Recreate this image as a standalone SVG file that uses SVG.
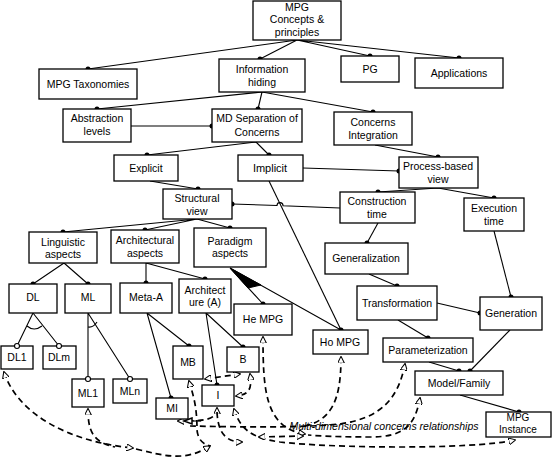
<svg xmlns="http://www.w3.org/2000/svg" width="552" height="460" viewBox="0 0 552 460">
<defs>
<style>
.b{fill:#fff;stroke:#000;stroke-width:1.3}
.t{font-family:"Liberation Sans",Arial,sans-serif;font-size:10.5px;text-anchor:middle;fill:#000}
.l{stroke:#000;stroke-width:1.1;fill:none}
.d{stroke:#000;stroke-width:1.7;stroke-dasharray:6 4;fill:none}
.dot{fill:#000}
.oc{fill:#fff;stroke:#000;stroke-width:1.1}
</style>
<marker id="ah" viewBox="0 0 10 10" refX="9" refY="5" markerWidth="7" markerHeight="7" markerUnits="userSpaceOnUse" orient="auto-start-reverse">
<path d="M0,0 L10,5 L0,10 z" fill="#fff" stroke="#000" stroke-width="1.5"/>
</marker>
</defs>
<rect width="552" height="460" fill="#fff"/>
<g id="connectors">
<path class="l" d="M297,40 L88,69 M297,40 L260,59 M297,40 L370,56 M297,40 L459,58"/>
<path class="l" d="M262,92 L97,109 M262,92 L258,109 M262,92 L373,112"/>
<path class="l" d="M131,126 L212,126"/>
<path class="l" d="M256,142 L147,155 M256,142 L269,155"/>
<path class="l" d="M375,145 L438,157"/>
<path class="l" d="M303,168 L399,171"/>
<path class="l" d="M150,181 L198,189"/>
<path class="l" d="M232,204 L277,205.5 A3,3 0 0 1 283,205.7 L340,208"/>
<path class="l" d="M269,181 L341,330"/>
<path class="l" d="M438,188 L378,192 M438,188 L494,198"/>
<path class="l" d="M378,223 L367,243"/>
<path class="l" d="M369,274 L397,286"/>
<path class="l" d="M494,231 L511,297"/>
<path class="l" d="M437,303 L480,313"/>
<path class="l" d="M398,320 L428,338"/>
<path class="l" d="M429,362 L459,371"/>
<path class="l" d="M510,330 L470,371"/>
<path class="l" d="M460,395 L519,412"/>
<path class="l" d="M197,219 L63,232 M197,219 L145,230 M197,219 L230,228"/>
<path class="l" d="M64,263 L33,284 M64,263 L88,284"/>
<path class="l" d="M146,263 L146,283 M146,263 L205,279"/>
<path class="l" d="M230,268 L263,304 M230,268 L341,330"/>
<path d="M230,268 L248,288 L261,285 z" fill="#000" stroke="#000" stroke-width="1"/>
<path class="l" d="M33,313 L17,346 M33,313 L59,346"/>
<path class="l" d="M27,326 Q34,332 42,326"/>
<path class="l" d="M88,313 L88,379 M88,313 L130,379"/>
<path class="l" d="M88,327 Q93,328 97,322"/>
<path class="l" d="M147,313 L189,346 M147,313 L171,398"/>
<path class="l" d="M206,313 L243,347 M206,313 L217,385"/>
<g id="dashed">
<path class="d" marker-start="url(#ah)" marker-end="url(#ah)" d="M4,372 C18,415 70,442 133,448"/>
<path class="d" marker-end="url(#ah)" d="M136,449 C165,456 185,462 210,446"/>
<path class="d" marker-start="url(#ah)" d="M88,409 C88,430 92,442 115,447"/>
<path class="d" marker-start="url(#ah)" d="M189,381 C193,395 197,405 197,430 C198,440 203,444 210,446"/>
<path class="l" d="M193,421 L201,421"/>
<path class="d" marker-start="url(#ah)" marker-end="url(#ah)" d="M205,379 L240,374"/>
<path class="d" marker-start="url(#ah)" marker-end="url(#ah)" d="M250,374 C253,392 246,395 236,396"/>
<path class="d" marker-start="url(#ah)" marker-end="url(#ah)" d="M217,408 C217,420 205,421 178,421"/>
<path d="M192,418 L184,421 L192,424 z" fill="#fff" stroke="#000" stroke-width="1.5"/>
<path class="d" marker-end="url(#ah)" d="M217,412 C218,432 225,442 242,442"/>
<path class="d" marker-start="url(#ah)" marker-end="url(#ah)" d="M234,409 C240,428 250,438 280,442 C330,448 470,450 515,440"/>
<path class="d" marker-start="url(#ah)" marker-end="url(#ah)" d="M263,337 C263,390 265,428 305,434"/>
<path class="d" marker-start="url(#ah)" d="M341,357 C341,400 332,422 300,427"/>
<path class="d" marker-start="url(#ah)" d="M405,364 C398,400 380,418 340,424 C300,428 240,427 190,426"/>
<path class="d" marker-start="url(#ah)" d="M420,398 C415,425 405,437 370,437 C340,437 320,436 308,435"/>
<path class="d" marker-start="url(#ah)" marker-end="url(#ah)" d="M259,437 L303,436"/>
</g>
<g class="dot">
<circle cx="88" cy="69" r="2.5"/><circle cx="260" cy="59" r="2.5"/><circle cx="370" cy="56" r="2.5"/><circle cx="459" cy="58" r="2.5"/>
<circle cx="97" cy="109" r="2.5"/><circle cx="258" cy="109" r="2.5"/><circle cx="373" cy="112" r="2.5"/><circle cx="212" cy="126" r="2.5"/>
<circle cx="147" cy="155" r="2.5"/><circle cx="269" cy="155" r="2.5"/><circle cx="438" cy="157" r="2.5"/><circle cx="399" cy="171" r="2.5"/>
<circle cx="198" cy="189" r="2.5"/><circle cx="232" cy="204" r="2.5"/><circle cx="378" cy="192" r="2.5"/><circle cx="494" cy="198" r="2.5"/>
<circle cx="63" cy="232" r="2.5"/><circle cx="145" cy="230" r="2.5"/><circle cx="230" cy="228" r="2.5"/><circle cx="367" cy="243" r="2.5"/>
<circle cx="33" cy="284" r="2.5"/><circle cx="88" cy="284" r="2.5"/><circle cx="146" cy="283" r="2.5"/><circle cx="205" cy="279" r="2.5"/>
<circle cx="263" cy="304" r="2.5"/><circle cx="341" cy="330" r="2.5"/><circle cx="397" cy="286" r="2.5"/><circle cx="511" cy="297" r="2.5"/><circle cx="480" cy="313" r="2.5"/>
<circle cx="428" cy="338" r="2.5"/><circle cx="459" cy="371" r="2.5"/><circle cx="470" cy="371" r="2.5"/><circle cx="519" cy="412" r="2.5"/>
<circle cx="189" cy="346" r="2.5"/><circle cx="243" cy="347" r="2.5"/><circle cx="217" cy="385" r="2.5"/><circle cx="171" cy="398" r="2.5"/>
</g>
</g>
<g id="n1"><rect class="b" x="253" y="1" width="88" height="39"/><text class="t" x="297" y="11">MPG</text><text class="t" x="297" y="23">Concepts &amp;</text><text class="t" x="297" y="36">principles</text></g>
<g id="n2"><rect class="b" x="39" y="69" width="98" height="30"/><text class="t" x="88" y="88">MPG Taxonomies</text></g>
<g id="n3"><rect class="b" x="219" y="59" width="86" height="33"/><text class="t" x="262" y="73">Information</text><text class="t" x="262" y="86">hiding</text></g>
<g id="n4"><rect class="b" x="341" y="56" width="58" height="26"/><text class="t" x="370" y="73">PG</text></g>
<g id="n5"><rect class="b" x="415" y="58" width="88" height="30"/><text class="t" x="459" y="77">Applications</text></g>
<g id="n6"><rect class="b" x="63" y="109" width="68" height="33"/><text class="t" x="97" y="122">Abstraction</text><text class="t" x="97" y="135">levels</text></g>
<g id="n7"><rect class="b" x="212" y="109" width="90" height="33"/><text class="t" x="257" y="122">MD Separation of</text><text class="t" x="257" y="136">Concerns</text></g>
<g id="n8"><rect class="b" x="334" y="112" width="78" height="33"/><text class="t" x="373" y="126">Concerns</text><text class="t" x="373" y="139">Integration</text></g>
<g id="n9"><rect class="b" x="114" y="155" width="64" height="26"/><text class="t" x="146" y="172">Explicit</text></g>
<g id="n10"><rect class="b" x="238" y="155" width="65" height="26"/><text class="t" x="270" y="172" style="font-size:11px">Implicit</text></g>
<g id="n11"><rect class="b" x="399" y="157" width="79" height="31"/><text class="t" x="438" y="170">Process-based</text><text class="t" x="438" y="183">view</text></g>
<g id="n12"><rect class="b" x="163" y="189" width="69" height="30"/><text class="t" x="197" y="202">Structural</text><text class="t" x="197" y="215">view</text></g>
<g id="n13"><rect class="b" x="340" y="192" width="75" height="31"/><text class="t" x="377" y="205">Construction</text><text class="t" x="377" y="218">time</text></g>
<g id="n14"><rect class="b" x="464" y="198" width="60" height="33"/><text class="t" x="494" y="212">Execution</text><text class="t" x="494" y="225">time</text></g>
<g id="n15"><rect class="b" x="29" y="232" width="68" height="31"/><text class="t" x="63" y="246">Linguistic</text><text class="t" x="63" y="258">aspects</text></g>
<g id="n16"><rect class="b" x="111" y="230" width="68" height="33"/><text class="t" x="145" y="244">Architectural</text><text class="t" x="145" y="257">aspects</text></g>
<g id="n17"><rect class="b" x="194" y="228" width="72" height="39"/><text class="t" x="230" y="245">Paradigm</text><text class="t" x="230" y="257">aspects</text></g>
<g id="n18"><rect class="b" x="325" y="243" width="83" height="31"/><text class="t" x="366" y="262">Generalization</text></g>
<g id="n19"><rect class="b" x="9" y="284" width="48" height="29"/><text class="t" x="33" y="301">DL</text></g>
<g id="n20"><rect class="b" x="65" y="284" width="46" height="29"/><text class="t" x="88" y="301">ML</text></g>
<g id="n21"><rect class="b" x="120" y="283" width="52" height="30"/><text class="t" x="146" y="301">Meta-A</text></g>
<g id="n22"><rect class="b" x="179" y="279" width="52" height="34"/><text class="t" x="205" y="294">Architect</text><text class="t" x="205" y="306">ure (A)</text></g>
<g id="n23"><rect class="b" x="234" y="304" width="58" height="31"/><text class="t" x="263" y="323">He MPG</text></g>
<g id="n24"><rect class="b" x="313" y="330" width="55" height="24"/><text class="t" x="340" y="346">Ho MPG</text></g>
<g id="n25"><rect class="b" x="357" y="286" width="80" height="34"/><text class="t" x="397" y="307">Transformation</text></g>
<g id="n26"><rect class="b" x="480" y="297" width="62" height="33"/><text class="t" x="511" y="317">Generation</text></g>
<g id="n27"><rect class="b" x="383" y="338" width="90" height="24"/><text class="t" x="428" y="354">Parameterization</text></g>
<g id="n28"><rect class="b" x="415" y="371" width="88" height="24"/><text class="t" x="459" y="387">Model/Family</text></g>
<g id="n29"><rect class="b" x="486" y="412" width="65" height="25"/><text class="t" x="518" y="421" style="font-size:10px">MPG</text><text class="t" x="518" y="433" style="font-size:10px">Instance</text></g>
<g id="n30"><rect class="b" x="1" y="346" width="32" height="23"/><text class="t" x="17" y="361">DL1</text></g>
<g id="n31"><rect class="b" x="43" y="346" width="33" height="23"/><text class="t" x="59" y="361">DLm</text></g>
<g id="n32"><rect class="b" x="72" y="379" width="32" height="28"/><text class="t" x="88" y="397">ML1</text></g>
<g id="n33"><rect class="b" x="113" y="379" width="34" height="24"/><text class="t" x="130" y="395">MLn</text></g>
<g id="n34"><rect class="b" x="173" y="346" width="30" height="33"/><text class="t" x="188" y="366">MB</text></g>
<g id="n35"><rect class="b" x="227" y="347" width="32" height="25"/><text class="t" x="243" y="363">B</text></g>
<g id="n36"><rect class="b" x="202" y="385" width="32" height="21"/><text class="t" x="218" y="399">I</text></g>
<g id="n37"><rect class="b" x="156" y="398" width="32" height="21"/><text class="t" x="172" y="412">MI</text></g>
<g id="opencircles">
<circle class="oc" cx="17" cy="346" r="2.5"/><circle class="oc" cx="59" cy="346" r="2.5"/><circle class="oc" cx="88" cy="379" r="2.5"/><circle class="oc" cx="130" cy="379" r="2.5"/>
</g>
<text x="384" y="430" style="font-family:'Liberation Sans',Arial,sans-serif;font-size:10.5px;font-style:italic;text-anchor:middle">Multi-dimensional concerns relationships</text>
</svg>
